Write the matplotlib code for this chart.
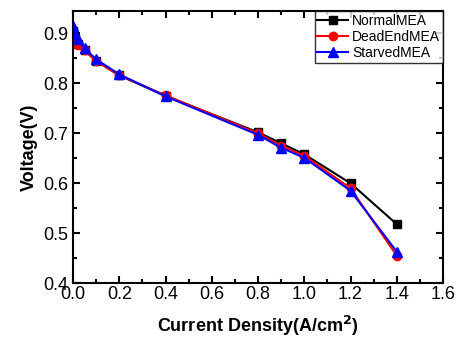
import matplotlib
matplotlib.use('Agg')
import matplotlib.pyplot as plt
from matplotlib.ticker import MultipleLocator

plt.rcParams['font.family'] = ['Liberation Sans', 'DejaVu Sans']

# current density (A/cm2)
x = [0.0, 0.01, 0.02, 0.05, 0.1, 0.2, 0.4, 0.8, 0.9, 1.0, 1.2, 1.4]
normal_mea = [0.905, 0.89, 0.878, 0.866, 0.845, 0.816, 0.775, 0.702, 0.680, 0.658, 0.600, 0.518]
deadend_mea = [0.895, 0.885, 0.876, 0.866, 0.844, 0.816, 0.776, 0.700, 0.675, 0.655, 0.590, 0.455]
starved_mea = [0.915, 0.898, 0.888, 0.870, 0.848, 0.818, 0.774, 0.697, 0.671, 0.651, 0.585, 0.463]

fig = plt.figure(figsize=(4.6, 3.44), dpi=100)
ax = fig.add_axes([0.159, 0.177, 0.804, 0.791])

ax.plot(x, normal_mea, color='black', marker='s', markersize=6, lw=1.5, label='NormalMEA')
ax.plot(x, deadend_mea, color='red', marker='o', markersize=6, lw=1.5, label='DeadEndMEA')
ax.plot(x, starved_mea, color='blue', marker='^', markersize=7, lw=1.5, label='StarvedMEA')

ax.set_xlim(0, 1.6)
ax.set_ylim(0.4, 0.945)
ax.xaxis.set_major_locator(MultipleLocator(0.2))
ax.xaxis.set_minor_locator(MultipleLocator(0.1))
ax.yaxis.set_major_locator(MultipleLocator(0.1))
ax.yaxis.set_minor_locator(MultipleLocator(0.05))
ax.tick_params(which='both', direction='in', top=True, right=True, width=1.5, labelsize=13)
ax.tick_params(which='major', length=5)
ax.tick_params(which='minor', length=3)
ax.tick_params(axis='x', pad=2)
for s in ax.spines.values():
    s.set_linewidth(1.5)

ax.set_xlabel('Current Density(A/cm$^\\mathbf{2}$)', fontsize=13, fontweight='bold', labelpad=8)
ax.set_ylabel('Voltage(V)', fontsize=13, fontweight='bold', labelpad=4)

leg = ax.legend(loc='upper right', borderaxespad=0, fontsize=10, fancybox=False,
                edgecolor='black', handlelength=2.2, handletextpad=0.3,
                borderpad=0.2, labelspacing=0.15)
leg.get_frame().set_linewidth(1.0)

fig.savefig('out.png', dpi=100)
